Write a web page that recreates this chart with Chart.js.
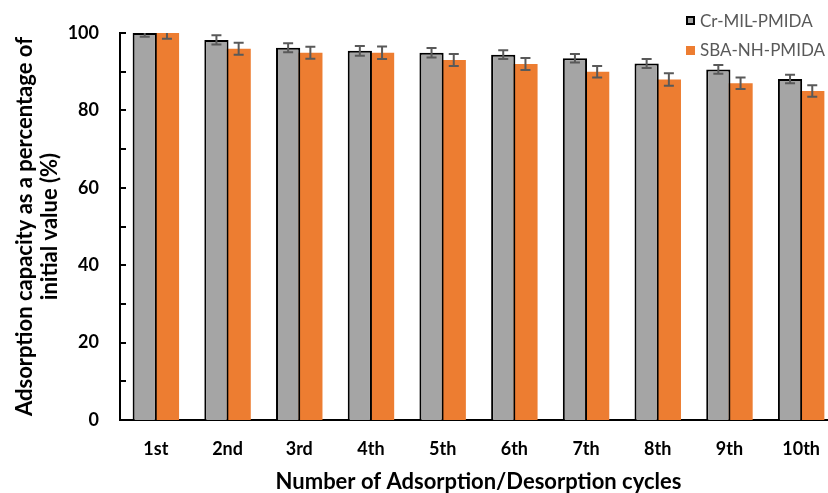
<!DOCTYPE html>
<html>
<head>
<meta charset="utf-8">
<script src="https://cdn.jsdelivr.net/npm/chart.js@4.4.0/dist/chart.umd.min.js"></script>
<style>
  html, body { margin: 0; padding: 0; background: #fff; overflow: hidden; width: 828px; height: 493px; }
  #wrap { position: absolute; left: 0; top: 0; width: 845px; height: 493px; }
  .leg { position: absolute; left: 686px; font-family: Lato, "Open Sans", sans-serif; font-size: 17px; color: #595959; white-space: nowrap; }
  .leg .sw { position: absolute; left: 0; width: 9px; height: 9px; box-sizing: border-box; }
  .leg .tx { position: absolute; left: 14px; line-height: 17px; }
</style>
</head>
<body>
<div id="wrap"><canvas id="c" width="845" height="493"></canvas></div>
<div class="leg" style="top:12px;"><div class="sw" style="top:4px;background:#A5A5A5;border:2px solid #000;"></div><div class="tx">Cr-MIL-PMIDA</div></div>
<div class="leg" style="top:41px;"><div class="sw" style="top:5px;background:#ED7D31;"></div><div class="tx">SBA-NH-PMIDA</div></div>
<script>
const categories = ['1st', '2nd', '3rd', '4th', '5th', '6th', '7th', '8th', '9th', '10th'];
const seriesNames = ['Cr-MIL-PMIDA', 'SBA-NH-PMIDA'];
const crMil = [100, 98.2, 96.2, 95.4, 94.9, 94.4, 93.5, 92.1, 90.6, 88.1];
const sbaNh = [100, 95.9, 94.9, 94.9, 93.0, 92.0, 90.0, 88.0, 87.0, 85.0];
const crMilErr = [1.0, 1.2, 1.15, 1.25, 1.2, 1.15, 1.1, 1.15, 1.1, 1.1];
const sbaNhErr = [1.5, 1.55, 1.55, 1.6, 1.55, 1.55, 1.5, 1.6, 1.5, 1.5];
const yTicks = [0, 20, 40, 60, 80, 100];

const errors = [crMilErr, sbaNhErr];

const errorBarPlugin = {
  id: 'errorBars',
  afterDatasetsDraw(chart) {
    const ctx = chart.ctx;
    const y = chart.scales.y;
    const area = chart.chartArea;
    ctx.save();
    ctx.beginPath();
    ctx.rect(area.left, area.top, area.right - area.left, area.bottom - area.top);
    ctx.clip();
    ctx.strokeStyle = '#595959';
    ctx.lineWidth = 2;
    chart.data.datasets.forEach((ds, di) => {
      const meta = chart.getDatasetMeta(di);
      meta.data.forEach((bar, i) => {
        const v = ds.data[i], e = errors[di][i];
        const x = bar.x;
        const yt = y.getPixelForValue(v + e);
        const yb = y.getPixelForValue(v - e);
        ctx.beginPath();
        ctx.moveTo(x, yt); ctx.lineTo(x, yb);
        ctx.moveTo(x - 5, yt); ctx.lineTo(x + 5, yt);
        ctx.moveTo(x - 5, yb); ctx.lineTo(x + 5, yb);
        ctx.stroke();
      });
    });
    ctx.restore();
  },
  afterDraw(chart) {
    const ctx = chart.ctx;
    const y = chart.scales.y;
    const x0 = chart.chartArea.left;
    ctx.save();
    ctx.strokeStyle = '#000';
    ctx.lineWidth = 2;
    for (let v = 0; v <= 100; v += 10) {
      const py = Math.round(y.getPixelForValue(v));
      ctx.beginPath();
      ctx.moveTo(x0, py); ctx.lineTo(x0 + 6, py);
      ctx.stroke();
    }
    ctx.restore();
  }
};

new Chart(document.getElementById('c'), {
  type: 'bar',
  data: {
    labels: categories,
    datasets: [
      { label: seriesNames[0], data: crMil, backgroundColor: '#A5A5A5', borderColor: '#000', borderWidth: 2, borderSkipped: 'bottom', categoryPercentage: 0.62, barPercentage: 1.09 },
      { label: seriesNames[1], data: sbaNh, backgroundColor: '#ED7D31', borderWidth: 0, categoryPercentage: 0.62, barPercentage: 1.09 }
    ]
  },
  options: {
    responsive: false,
    animation: false,
    layout: { padding: { top: 33, right: 8, bottom: 0, left: 0 } },
    plugins: { legend: { display: false }, tooltip: { enabled: false } },
    scales: {
      x: {
        grid: { display: false, drawTicks: false },
        border: { display: true, color: '#000', width: 2 },
        ticks: { color: '#000', font: { family: 'Lato', size: 18, weight: 'bold' }, padding: 18, maxRotation: 0 },
        title: { display: true, text: 'Number of Adsorption/Desorption cycles', color: '#000', font: { family: 'Lato', size: 22, weight: 'bold' }, padding: { top: 0, bottom: -2 } },
        afterFit(s) { s.height = 73; }
      },
      y: {
        min: 0, max: 100,
        grid: { display: false, drawTicks: false },
        border: { display: true, color: '#000', width: 2 },
        afterBuildTicks(s) { s.ticks = yTicks.map(v => ({ value: v })); },
        ticks: { color: '#000', font: { family: 'Lato', size: 18, weight: 'bold' }, padding: 21 },
        title: { display: true, text: ['Adsorption capacity as a percentage of', 'initial value (%)'], color: '#000', font: { family: 'Lato', size: 22, weight: 'bold', lineHeight: 1.15 }, padding: { top: 12, bottom: 0 } },
        afterFit(s) { s.width = 120; }
      }
    }
  },
  plugins: [errorBarPlugin]
});
</script>
</body>
</html>
